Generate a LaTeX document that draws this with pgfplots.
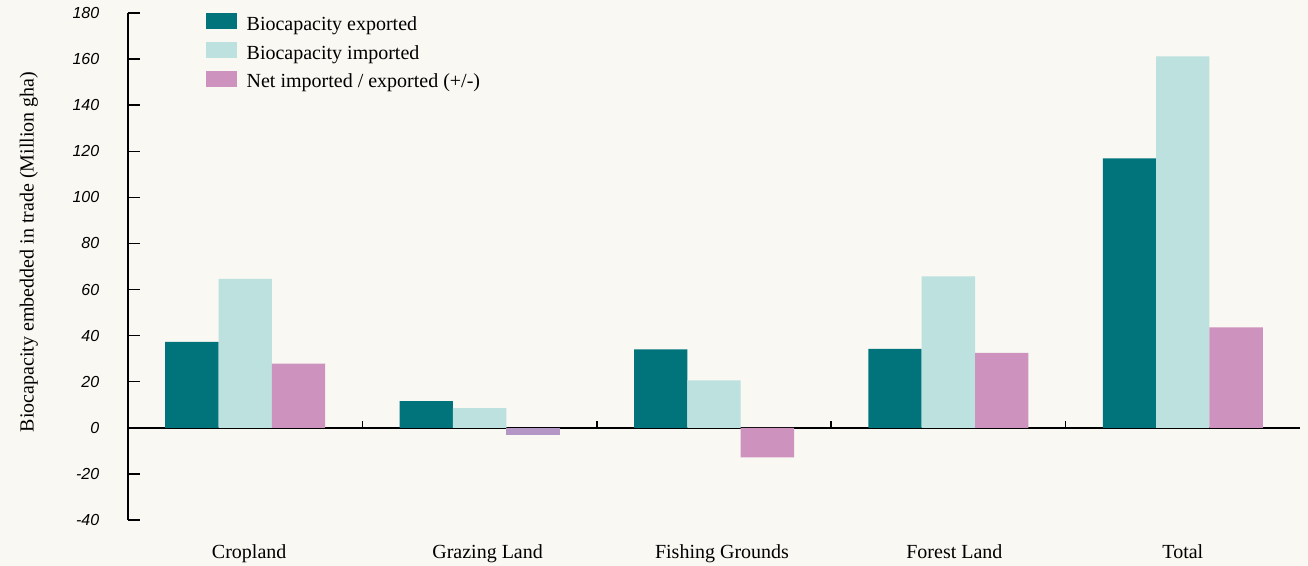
\documentclass[border=0pt]{standalone}
\usepackage{pgfplots}
\pgfplotsset{compat=1.18}
\usepackage{fontspec}
\setmainfont{Liberation Serif}
\newfontfamily\tickfont{Liberation Sans}
\usetikzlibrary{backgrounds}
\definecolor{bg}{HTML}{F9F8F3}
\definecolor{cexp}{HTML}{00747A}
\definecolor{cimp}{HTML}{BDE1DF}
\definecolor{cnet}{HTML}{CE92BE}
\definecolor{cnetb}{HTML}{B497C5}
\begin{document}
\begin{tikzpicture}
\begin{axis}[
  scale only axis, clip=false,
  width=879pt, height=380.25pt,
  xmin=-0.5, xmax=4.5, ymin=-40, ymax=180,
  axis x line*=middle, axis y line*=left,
  axis line style={black, line width=1.1pt},
  ytick={-40,-20,...,180},
  xtick=\empty,
  tick align=inside,
  major tick length=9pt,
  every tick/.style={black, line width=1.1pt},
  /pgf/number format/assume math mode=true,
  y tick label style={font=\tickfont\itshape\fontsize{12}{14}\selectfont, xshift=-18pt},
  ylabel={Biocapacity embedded in trade (Million gha)},
  ylabel style={at={(axis description cs:-0.0845,0.529)}, anchor=center, font=\fontsize{15}{17}\selectfont},
  ybar=0pt, bar width=40pt,
  legend style={draw=none, fill=none, at={(axis description cs:0.0666,1.0)}, anchor=north west,
     font=\fontsize{15}{17}\selectfont, inner sep=0pt, row sep=4.5pt, column sep=7pt,
     nodes={text height=11pt, text depth=4pt, inner sep=0pt}},
  legend cell align=left,
  legend image code/.code={\fill[#1] (0pt,-2.5pt) rectangle (23.25pt,9.5pt);},
]
\addplot[fill=cexp, draw=none] coordinates {(0,37.3) (1,11.6) (2,34.0) (3,34.3) (4,116.9)};
\addplot[fill=cimp, draw=none] coordinates {(0,64.6) (1,8.5) (2,20.6) (3,65.7) (4,161.2)};
\addplot[fill=cnet, draw=none] coordinates {(0,27.8) (2,-12.8) (3,32.5) (4,43.6)};
\addplot[fill=cnetb, draw=none, bar shift=40pt, forget plot] coordinates {(1,-3.3)};
\legend{Biocapacity exported, Biocapacity imported, Net imported / exported (+/-)}
\coordinate (ll) at (rel axis cs:0,0);
\coordinate (ur) at (rel axis cs:1,1);
\pgfplotsinvokeforeach{0.5,1.5,2.5,3.5}{\draw[black, line width=1.1pt] (axis cs:#1,0) -- ([yshift=5pt]axis cs:#1,0);}
\node[anchor=base, font=\fontsize{15}{17}\selectfont] at ([xshift=3pt, yshift=-29pt]axis cs:0,-40) {Cropland};
\node[anchor=base, font=\fontsize{15}{17}\selectfont] at ([xshift=6pt, yshift=-29pt]axis cs:1,-40) {Grazing Land};
\node[anchor=base, font=\fontsize{15}{17}\selectfont] at ([xshift=6pt, yshift=-29pt]axis cs:2,-40) {Fishing Grounds};
\node[anchor=base, font=\fontsize{15}{17}\selectfont] at ([xshift=4.5pt, yshift=-29pt]axis cs:3,-40) {Forest Land};
\node[anchor=base, font=\fontsize{15}{17}\selectfont] at ([yshift=-29pt]axis cs:4,-40) {Total};
\end{axis}
\pgfresetboundingbox
\path ([shift={(-96pt,-34.5pt)}]ll) rectangle ([shift={(6pt,9.75pt)}]ur);
\begin{scope}[on background layer]
\fill[bg] ([shift={(-96pt,-34.5pt)}]ll) rectangle ([shift={(6pt,9.75pt)}]ur);
\end{scope}
\end{tikzpicture}
\end{document}
